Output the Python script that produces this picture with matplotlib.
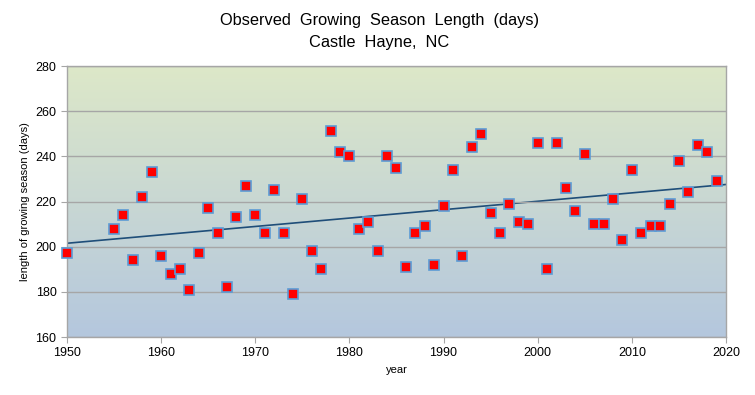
import numpy as np
import matplotlib
matplotlib.use("Agg")
from matplotlib import pyplot as plt
from matplotlib import ticker as tck
from matplotlib.colors import LinearSegmentedColormap

plt.rcParams['font.family'] = ['Liberation Sans', 'DejaVu Sans']

# observed growing season length, Castle Hayne NC
years = [1950, 1955, 1956, 1957, 1958, 1959, 1960, 1961, 1962, 1963, 1964,
         1965, 1966, 1967, 1968, 1969, 1970, 1971, 1972, 1973, 1974, 1975,
         1976, 1977, 1978, 1979, 1980, 1981, 1982, 1983, 1984, 1985, 1986,
         1987, 1988, 1989, 1990, 1991, 1992, 1993, 1994, 1995, 1996, 1997,
         1998, 1999, 2000, 2001, 2002, 2003, 2004, 2005, 2006, 2007, 2008,
         2009, 2010, 2011, 2012, 2013, 2014, 2015, 2016, 2017, 2018, 2019]
days = [197, 208, 214, 194, 222, 233, 196, 188, 190, 181, 197,
        217, 206, 182, 213, 227, 214, 206, 225, 206, 179, 221,
        198, 190, 251, 242, 240, 208, 211, 198, 240, 235, 191,
        206, 209, 192, 218, 234, 196, 244, 250, 215, 206, 219,
        211, 210, 246, 190, 246, 226, 216, 241, 210, 210, 221,
        203, 234, 206, 209, 209, 219, 238, 224, 245, 242, 229]

x = np.array(years, dtype=float)
y = np.array(days, dtype=float)

fig = plt.figure(figsize=(7.55, 3.95), dpi=100)
ax = fig.add_axes([0.0887, 0.1468, 0.8729, 0.6861])

# gradient background (green at top, blue at bottom)
grad = LinearSegmentedColormap.from_list("bg", ["#b4c7de", "#dde8c8"])
ax.imshow(np.linspace(0, 1, 256).reshape(-1, 1), cmap=grad, origin='lower',
          extent=[1950, 2020, 160, 280], aspect='auto', zorder=0)

ax.set_xlim(1950, 2020)
ax.set_ylim(160, 280)
ax.xaxis.set_major_locator(tck.MultipleLocator(10))
ax.yaxis.set_major_locator(tck.MultipleLocator(20))
ax.grid(True, axis='y', color='#a6a6a6', linewidth=1)
ax.set_axisbelow(False)
ax.grid(False, axis='x')
for ln in ax.get_ygridlines():
    ln.set_zorder(1)

# linear trend
k, b = np.polyfit(x, y, 1)
xt = np.array([1950, 2020])
ax.plot(xt, k * xt + b, color='#1f4e79', linewidth=1.2, zorder=2)

ax.plot(x, y, 's', markersize=7.8, markerfacecolor='#ff0000',
        markeredgecolor='#5b9bd5', markeredgewidth=1.2, linestyle='none',
        zorder=3, clip_on=False)

for s in ax.spines.values():
    s.set_color('#a6a6a6')
    s.set_linewidth(1)
ax.tick_params(axis='both', colors='#a6a6a6', labelcolor='black',
               labelsize=9, length=4, direction='out')

ax.set_xlabel("year", fontsize=8)
ax.set_ylabel("length of growing season (days)", fontsize=8)
fig.text(0.502, 0.949, "Observed  Growing  Season  Length  (days)",
         fontsize=11.8, ha='center', va='center')
fig.text(0.502, 0.893, "Castle  Hayne,  NC",
         fontsize=11.8, ha='center', va='center')

fig.savefig("out.png", dpi=100)
